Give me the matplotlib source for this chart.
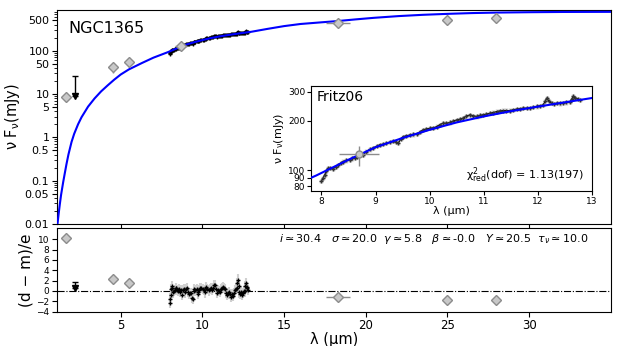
import matplotlib
matplotlib.use("Agg")
import matplotlib.pyplot as plt

# modelo (curva azul)
mod_wl = [1.13, 1.20, 1.27, 1.35, 1.48, 1.58, 1.68, 1.80, 1.99, 2.15, 2.39, 2.6,
          3.0, 3.4, 3.8, 4.2, 4.6, 5.0, 5.5, 6.3, 7.0, 7.9,
          8.5, 9.0, 9.5, 10.0, 10.5, 11.0, 11.5, 12.0, 12.5, 13.0, 14.0, 15.0,
          16.0, 17.2, 18.3, 19.4, 20.5, 22.0, 23.5, 25.0, 26.5, 28.0, 30.0, 32.0, 35.0]
mod_fl = [0.01, 0.017, 0.028, 0.047, 0.093, 0.15, 0.24, 0.40, 0.78, 1.2, 2.0, 2.9,
          5.1, 7.9, 11.5, 15.8, 21.4, 28.2, 37, 52, 69, 93,
          116, 138, 157, 176, 195, 212, 228, 243, 258, 274, 320, 370,
          414, 450, 485, 530, 575, 630, 675, 710, 740, 760, 775, 785, 790]

# fotometria
phot_wl = [1.65, 4.5, 5.5, 8.7, 18.3, 25.0, 28.0]
phot_fl = [8.6, 41, 54, 126, 437, 518, 566]
phot_err = [0.5, 10, 11, 17, 10, 30, 30]
phot_xerr = [0, 0, 0, 0.37, 0.71, 0, 0]
phot_res = [10.2, 2.3, 1.5, 0.1, -1.1, -1.85, -1.85]

# limite superior
ul_wl = 2.2
ul_fl = 26
ul_tip = 9
ul_res = 1.8
ul_res_tip = 0.5

# espectro Fritz06
spec_wl = [8.00, 8.03, 8.06, 8.09, 8.12, 8.16, 8.21, 8.26, 8.31, 8.36, 8.40, 8.46,
           8.52, 8.57, 8.62, 8.66, 8.77, 8.83, 8.90, 8.96, 9.02, 9.08, 9.14, 9.20,
           9.26, 9.33, 9.38, 9.42, 9.47, 9.51, 9.57, 9.64, 9.70, 9.76, 9.82, 9.88,
           9.94, 10.01, 10.07, 10.13, 10.19, 10.25, 10.31, 10.38, 10.44, 10.50,
           10.56, 10.62, 10.68, 10.75, 10.81, 10.87, 10.93, 10.99, 11.05, 11.12,
           11.18, 11.24, 11.30, 11.36, 11.42, 11.49, 11.55, 11.61, 11.67, 11.73,
           11.80, 11.86, 11.92, 11.98, 12.04, 12.10, 12.14, 12.17, 12.21, 12.26,
           12.30, 12.35, 12.41, 12.47, 12.53, 12.60, 12.63, 12.66, 12.70, 12.75, 12.79]
spec_fl = [86, 90, 94, 99, 103, 103, 102, 105, 108, 111, 113, 115,
           116, 118, 119, 121, 124, 130, 134, 137, 140, 143, 144, 146,
           148, 150, 148, 146, 155, 160, 162, 164, 165, 166, 171, 176,
           178, 180, 181, 184, 189, 193, 193, 195, 199, 202,
           204, 207, 213, 217, 214, 212, 215, 217, 219, 222,
           224, 227, 229, 230, 230, 230, 233, 235, 236, 238,
           238, 238, 241, 244, 246, 249, 262, 274, 262, 255,
           253, 255, 254, 255, 258, 260, 270, 280, 275, 270, 267]
spec_res = [-2.3, -1.5, -0.8, 0.4, 1.0, 0.6, -0.3, 0.0, 0.2, 0.5, 0.6, 0.2,
            0.0, 0.3, -0.2, 0.1, -0.8, 0.2, 0.4, -0.3, 0.3, 0.5, -0.2, -0.6,
            -0.5, -0.4, -1.3, -1.6, 0.0, 0.4, 0.1, 0.3, -0.3, -0.6, 0.2, 0.6,
            0.5, 0.4, 0.2, -0.3, 0.5, 0.8, 0.3, 0.1, 0.4, 0.5,
            0.2, 0.5, 1.1, 1.2, 0.4, -0.4, 0.2, 0.0, -0.2, 0.3,
            0.6, 0.7, 0.5, 0.3, -0.4, -0.8, -0.5, -0.3, -0.6, -1.2,
            -0.6, -0.9, -0.4, 0.2, 0.3, 0.6, 1.5, 2.2, 1.0, -0.3,
            -0.6, -0.3, -0.8, -0.4, 0.0, -0.1, 1.0, 1.5, 0.8, 0.5, 0.2]

fig = plt.figure(figsize=(6.23, 3.46), dpi=100)
ax1 = fig.add_axes([0.0915, 0.353, 0.889, 0.618])
ax2 = fig.add_axes([0.0915, 0.0997, 0.889, 0.2413], sharex=ax1)
axi = fig.add_axes([0.4987, 0.448, 0.451, 0.304])

diam = dict(fmt='D', ms=5, mfc='#c8c8c8', mec='#8c8c8c', ecolor='#8c8c8c',
            elinewidth=1, capsize=0, zorder=4)

# panel superior
ax1.plot(mod_wl, mod_fl, color='#0000ff', lw=1.5, zorder=3)
ax1.errorbar(spec_wl, spec_fl, yerr=[f * 0.03 for f in spec_fl], fmt='+', ms=3,
             color='k', ecolor='#c8c8c8', elinewidth=1.5, zorder=2)
ax1.plot(spec_wl, spec_fl, color='k', lw=1.5, zorder=2)
ax1.errorbar(phot_wl, phot_fl, yerr=phot_err, xerr=phot_xerr, **diam)
ax1.errorbar([ul_wl], [ul_tip], yerr=[[0], [ul_fl - ul_tip]], fmt='v', ms=5,
             color='k', capsize=2, lw=1, zorder=4)
ax1.set_yscale('log')
ax1.set_ylim(0.01, 870)
ax1.set_xlim(1.1, 35)
yt = [0.01, 0.05, 0.1, 0.5, 1, 5, 10, 50, 100, 500]
ax1.set_yticks(yt)
ax1.set_yticklabels(['0.01', '0.05', '0.1', '0.5', '1', '5', '10', '50', '100', '500'])
ax1.tick_params(labelsize=8, labelbottom=False, pad=2)
ax1.set_ylabel(r'ν F$_\mathregular{ν}$(mJy)', fontsize=10.5, labelpad=2)
ax1.text(0.02, 0.95, 'NGC1365', transform=ax1.transAxes, fontsize=11.5, va='top')

# inset
axi.plot(mod_wl, mod_fl, color='#0000ff', lw=1.5, zorder=3)
axi.errorbar(spec_wl, spec_fl, yerr=[f * 0.03 for f in spec_fl], fmt='+', ms=3,
             color='#333333', ecolor='#cfcfcf', elinewidth=2.5, zorder=2)
axi.plot(spec_wl, spec_fl, color='k', lw=0.8, zorder=2)
axi.errorbar([phot_wl[3]], [phot_fl[3]], yerr=[[19], [15]], xerr=[phot_xerr[3]],
             fmt='o', ms=5, mfc='#c8c8c8', mec='#8c8c8c', ecolor='#8c8c8c',
             elinewidth=1, zorder=4)
axi.set_yscale('log')
axi.set_xlim(7.8, 13)
axi.set_ylim(75, 325)
axi.set_yticks([80, 90, 100, 200, 300])
axi.set_yticklabels(['80', '90', '100', '200', '300'])
axi.set_yticks([], minor=True)
axi.set_xticks([8, 9, 10, 11, 12, 13])
axi.tick_params(labelsize=6.5, pad=1, length=3)
axi.set_xlabel('λ (µm)', fontsize=8, labelpad=0)
axi.set_ylabel(r'ν F$_\mathregular{ν}$(mJy)', fontsize=8, labelpad=1)
axi.text(0.02, 0.96, 'Fritz06', transform=axi.transAxes, fontsize=10, va='top')
axi.text(0.975, 0.06, r'$\mathregular{\chi^2_{red}}$(dof) = 1.13(197)',
         transform=axi.transAxes, fontsize=8, ha='right', va='bottom')

# residuos
ax2.axhline(0, color='k', ls='-.', lw=0.8)
ax2.errorbar(spec_wl, spec_res, yerr=1, fmt='+', ms=3, color='k',
             ecolor='#d0d0d0', elinewidth=1.5, zorder=3)
ax2.errorbar(phot_wl[:3] + phot_wl[4:], phot_res[:3] + phot_res[4:],
             yerr=0.6, xerr=phot_xerr[:3] + phot_xerr[4:], **diam)
ax2.errorbar([ul_wl], [ul_res_tip], yerr=[[0], [ul_res - ul_res_tip]], fmt='v',
             ms=5, color='k', capsize=2, lw=1, zorder=4)
ax2.set_ylim(-4, 12.2)
ax2.set_yticks(range(-4, 11, 2))
ax2.set_xticks([5, 10, 15, 20, 25, 30])
ax2.tick_params(axis='x', labelsize=8.5, pad=2)
ax2.tick_params(axis='y', labelsize=6.5, pad=2)
ax2.set_ylabel('(d − m)/e', fontsize=11, labelpad=2)
ax2.set_xlabel('λ (µm)', fontsize=10.5, labelpad=0)
ax2.text(0.96, 0.95, r'$i\simeq$30.4   $\sigma\simeq$20.0  $\gamma\simeq$5.8   '
         r'$\beta\simeq$-0.0   $Y\simeq$20.5  $\tau_\nu\simeq$10.0',
         transform=ax2.transAxes, fontsize=8, ha='right', va='top')

fig.savefig('out.png', dpi=100)
